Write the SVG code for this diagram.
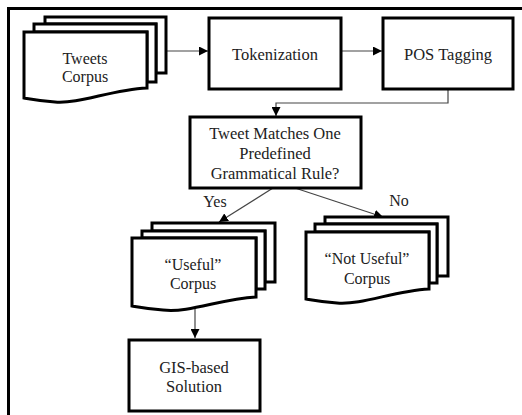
<svg xmlns="http://www.w3.org/2000/svg" width="522" height="415" viewBox="0 0 522 415">
  <style>
    .box { fill: #fff; stroke: #000; stroke-width: 3; }
    .doc { fill: #fff; stroke: #000; stroke-width: 3; stroke-linejoin: miter; }
    .conn { fill: none; stroke: #444; stroke-width: 1.2; }
    .g { font-size: 16.5px; fill: #222; text-anchor: middle; }
    .t { font-size: 16px; fill: #222; text-anchor: middle; }
  </style>
  <defs>
    <marker id="arr" viewBox="0 0 10 10" refX="10" refY="5" markerWidth="9" markerHeight="9" markerUnits="userSpaceOnUse" orient="auto">
      <path d="M0,0 L10,5 L0,10 Z" fill="#000"/>
    </marker>
  </defs>
  <rect width="522" height="415" fill="#fff"/>
  <path d="M8.5,415 V8.5 H522" fill="none" stroke="#000" stroke-width="3"/>

  <g id="connectors">
    <line class="conn" x1="166" y1="51" x2="208" y2="51" marker-end="url(#arr)"/>
    <line class="conn" x1="341" y1="51" x2="382" y2="51" marker-end="url(#arr)"/>
    <polyline class="conn" points="448,89 448,103 276,103 276,116" marker-end="url(#arr)"/>
    <line class="conn" x1="273" y1="188" x2="219" y2="222" marker-end="url(#arr)"/>
    <line class="conn" x1="295" y1="188" x2="383" y2="217" marker-end="url(#arr)"/>
    <line class="conn" x1="195" y1="306" x2="195" y2="338" marker-end="url(#arr)"/>
    <text class="t" font-family="'Liberation Serif', Tinos, 'Times New Roman', 'DejaVu Serif', serif" x="215" y="207">Yes</text>
    <text class="t" font-family="'Liberation Serif', Tinos, 'Times New Roman', 'DejaVu Serif', serif" x="399" y="206">No</text>
  </g>

  <g id="tweets-corpus" font-family="'Liberation Serif', Tinos, 'Times New Roman', 'DejaVu Serif', serif">
    <path class="doc" d="M45,17 H166 V73 H156 V24 H45 Z"/>
    <path class="doc" d="M34,24 H156 V82 H147 V32 H34 Z"/>
    <path class="doc" d="M24,32 H147 V88 C110,90 80,104 55,102 C40,101 30,99 24,98 Z"/>
    <text class="t" x="85" y="64">Tweets</text>
    <text class="t" x="85" y="82">Corpus</text>
  </g>

  <g id="tokenization" font-family="'Liberation Serif', Tinos, 'Times New Roman', 'DejaVu Serif', serif">
    <rect class="box" x="209" y="18" width="132" height="71"/>
    <text class="g" x="275" y="60">Tokenization</text>
  </g>

  <g id="pos-tagging" font-family="'Liberation Serif', Tinos, 'Times New Roman', 'DejaVu Serif', serif">
    <rect class="box" x="383" y="18" width="130" height="71"/>
    <text class="g" x="448" y="60">POS Tagging</text>
  </g>

  <g id="decision" font-family="'Liberation Serif', Tinos, 'Times New Roman', 'DejaVu Serif', serif">
    <rect class="box" x="190" y="117" width="171" height="71"/>
    <text class="g" x="275" y="139">Tweet Matches One</text>
    <text class="g" x="275" y="159">Predefined</text>
    <text class="g" x="275" y="179">Grammatical Rule?</text>
  </g>

  <g id="useful-corpus" font-family="'Liberation Serif', Tinos, 'Times New Roman', 'DejaVu Serif', serif">
    <path class="doc" d="M152,223 H275 V282 H265 V231 H152 Z"/>
    <path class="doc" d="M142,231 H265 V289 H256 V238 H142 Z"/>
    <path class="doc" d="M132,238 H256 V297 C220,299 190,313 163,310 C148,309 138,307 132,306 Z"/>
    <text class="t" x="193" y="270">“Useful”</text>
    <text class="t" x="193" y="289">Corpus</text>
  </g>

  <g id="not-useful-corpus" font-family="'Liberation Serif', Tinos, 'Times New Roman', 'DejaVu Serif', serif">
    <path class="doc" d="M325,217 H448 V276 H437 V224 H325 Z"/>
    <path class="doc" d="M315,224 H437 V283 H429 V232 H315 Z"/>
    <path class="doc" d="M306,232 H429 V289 C393,291 363,305 337,303 C322,302 312,300 306,299 Z"/>
    <text class="t" x="367" y="264">“Not Useful”</text>
    <text class="t" x="367" y="284">Corpus</text>
  </g>

  <g id="gis-solution" font-family="'Liberation Serif', Tinos, 'Times New Roman', 'DejaVu Serif', serif">
    <rect class="box" x="129" y="340" width="131" height="71"/>
    <text class="g" x="194" y="373">GIS-based</text>
    <text class="g" x="194" y="392">Solution</text>
  </g>
</svg>
